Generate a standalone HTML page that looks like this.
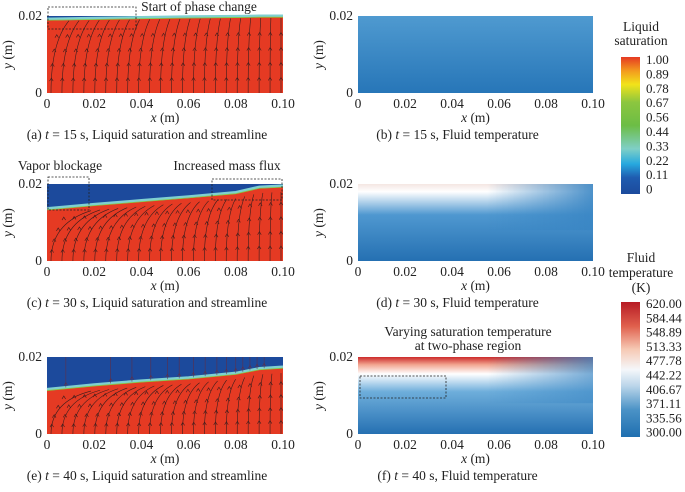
<!DOCTYPE html>
<html><head><meta charset="utf-8"><style>
body{margin:0;background:#fff}
svg, svg text{font-family:"Liberation Serif","Times New Roman",serif}
svg text{fill:#222}
</style></head><body>
<svg id="fig" width="685" height="487" viewBox="0 0 685 487" xmlns="http://www.w3.org/2000/svg" font-family="Liberation Serif, serif">
<defs>
<linearGradient id="satbar" x1="0" y1="1" x2="0" y2="0">
<stop offset="0" stop-color="#1c4a9c"/><stop offset="0.12" stop-color="#1f5cb0"/><stop offset="0.22" stop-color="#27a9df"/><stop offset="0.33" stop-color="#7fcfc6"/><stop offset="0.5" stop-color="#6cbd45"/><stop offset="0.67" stop-color="#8cc63f"/><stop offset="0.8" stop-color="#f2e31a"/><stop offset="0.9" stop-color="#f39a1e"/><stop offset="1" stop-color="#e53a23"/>
</linearGradient>
<linearGradient id="tempbar" x1="0" y1="1" x2="0" y2="0">
<stop offset="0" stop-color="#1f6fb0"/><stop offset="0.2" stop-color="#4a92c6"/><stop offset="0.38" stop-color="#bcd6ea"/><stop offset="0.5" stop-color="#f5f7fa"/><stop offset="0.65" stop-color="#f6c9b4"/><stop offset="0.82" stop-color="#e0604d"/><stop offset="1" stop-color="#b71c25"/>
</linearGradient>
<linearGradient id="tb" x1="0" y1="0" x2="0" y2="1"><stop offset="0" stop-color="#4f9ad0"/><stop offset="1" stop-color="#2776b8"/></linearGradient>
<linearGradient id="td" x1="0" y1="0" x2="0" y2="1"><stop offset="0" stop-color="#f4e6e2"/><stop offset="0.1" stop-color="#ffffff"/><stop offset="0.4" stop-color="#4f98d0"/><stop offset="1" stop-color="#2570b2"/></linearGradient>
<linearGradient id="tf" x1="0" y1="0" x2="0" y2="1"><stop offset="0" stop-color="#cc2a2a"/><stop offset="0.1" stop-color="#f2a590"/><stop offset="0.22" stop-color="#ffffff"/><stop offset="0.45" stop-color="#6eaedb"/><stop offset="1" stop-color="#2570b2"/></linearGradient>
<linearGradient id="fade" x1="0" y1="0" x2="1" y2="0"><stop offset="0" stop-color="#3a86c4" stop-opacity="0"/><stop offset="0.55" stop-color="#3a86c4" stop-opacity="0"/><stop offset="1" stop-color="#3a86c4" stop-opacity="0.9"/></linearGradient>
<linearGradient id="fadev" x1="0" y1="0" x2="0" y2="1"><stop offset="0" stop-color="#fff" stop-opacity="1"/><stop offset="0.7" stop-color="#fff" stop-opacity="1"/><stop offset="1" stop-color="#fff" stop-opacity="0"/></linearGradient>
<mask id="fm"><rect x="0" y="0" width="685" height="487" fill="url(#fadev)"/></mask>
</defs>
<g id="root"></g>
</svg>
<script>
const xTicks=[0,0.02,0.04,0.06,0.08,0.10];
const xTickLabels=["0","0.02","0.04","0.06","0.08","0.10"];
const yTicks=[0,0.02];
const yTickLabels=["0","0.02"];
const satLabels=["1.00","0.89","0.78","0.67","0.56","0.44","0.33","0.22","0.11","0"];
const tempLabels=["620.00","584.44","548.89","513.33","477.78","442.22","406.67","371.11","335.56","300.00"];
// interface height (m) vs x for panels
const ifaceX=[0,0.02,0.04,0.06,0.08,0.09,0.10];
const ifaceA=[0.0192,0.0194,0.0196,0.0198,0.0199,0.02,0.02];
const ifaceC=[0.0136,0.0147,0.0157,0.0167,0.0178,0.0192,0.0195];
const ifaceE=[0.0116,0.0128,0.0138,0.0146,0.0158,0.0170,0.0174];
const captions=["(a) t = 15 s, Liquid saturation and streamline","(b) t = 15 s, Fluid temperature","(c) t = 30 s, Liquid saturation and streamline","(d) t = 30 s, Fluid temperature","(e) t = 40 s, Liquid saturation and streamline","(f) t = 40 s, Fluid temperature"];

const FS=13.5;
const NS="http://www.w3.org/2000/svg";
const root=document.getElementById('root');
function mk(tag,attrs,parent){const e=document.createElementNS(NS,tag);for(const k in attrs)e.setAttribute(k,attrs[k]);(parent||root).appendChild(e);return e;}
function txt(s,x,y,size,anchor,parent){const t=mk('text',{x:x,y:y,'font-size':size,'text-anchor':anchor||'middle','font-family':'Liberation Serif, serif'},parent);t.textContent=s;return t;}

const panels=[
 {x0:47,x1:283,y0:16,y1:93,kind:'sat',iface:ifaceA,cap:0},
 {x0:358,x1:593,y0:16,y1:93,kind:'tb',cap:1},
 {x0:47,x1:283,y0:184,y1:261,kind:'sat',iface:ifaceC,cap:2},
 {x0:358,x1:593,y0:184,y1:261,kind:'td',cap:3},
 {x0:47,x1:283,y0:357,y1:434,kind:'sat',iface:ifaceE,cap:4},
 {x0:358,x1:593,y0:357,y1:434,kind:'tf',cap:5}
];

panels.forEach((p,i)=>{
 const g=mk('g',{});
 
 
 const sx=v=>p.x0+v/0.1*(p.x1-p.x0);
 const sy=v=>p.y1-v/0.02*(p.y1-p.y0);
 const W=p.x1-p.x0,H=p.y1-p.y0;
 const ifY=xv=>{let j=0;while(j<ifaceX.length-2&&ifaceX[j+1]<xv)j++;const t=(xv-ifaceX[j])/(ifaceX[j+1]-ifaceX[j]);return sy(p.iface[j]+t*(p.iface[j+1]-p.iface[j]));};
 if(p.kind==='sat'){
  const bg=mk('rect',{x:p.x0,y:p.y0,width:W,height:H,fill:'#1c4a9c'},g);
  
  
  const pts=ifaceX.map((x,k)=>sx(x)+','+sy(p.iface[k]));
  const band=mk('polyline',{points:pts.join(' '),fill:'none',stroke:'#7fd0d0','stroke-width':3},g);
  
  
  const liq=mk('polygon',{points:p.x0+','+p.y1+' '+pts.map(s=>{const [a,b]=s.split(',');return a+','+(+b+1.5);}).join(' ')+' '+p.x1+','+p.y1,fill:'#e53a23'},g);
  
  
  mk('polyline',{points:pts.map(s=>{const [a,b]=s.split(',');return a+','+(+b+1.2);}).join(' '),fill:'none',stroke:'#8cc63f','stroke-width':0.8},g);
  const sl=mk('g',{stroke:'#3a1d1d','stroke-width':0.6,fill:'none'},g);
  
  
  const n=22;
  for(let k=0;k<n;k++){
   const xb=p.x0+4+k*(W-6)/(n-1);
   const bend=(1-k/(n-1))*(i===0?18:40);
   const xe=Math.min(p.x1-2,xb+bend);
   const topY=ifY((xe-p.x0)/W*0.1)+2;
   const d='M'+xb+','+p.y1+' Q'+xb+','+(topY+(p.y1-topY)*0.3)+' '+xe+','+(topY+(i===0?0:4));
   mk('path',{d:d},sl);
   for(let a=1;a<=4;a++){const yy=p.y1-a*(p.y1-topY)/5;mk('path',{d:'M'+(xb+bend*Math.pow(a/5,2)*0.5-1.8)+','+(yy+2.5)+' l1.8,-3 l1.8,3'},sl);}
  }
  if(i===4){
   const vx=[0.008,0.027,0.036,0.044,0.051,0.056,0.062,0.067,0.072,0.076,0.080,0.083,0.086,0.089,0.092];
   vx.forEach(v=>{const xx=sx(v);const yb=ifY(v);mk('path',{d:'M'+xx+','+p.y0+' V'+yb+' M'+(xx-1.8)+','+(yb-2)+' l1.8,-3 l1.8,3',stroke:'#6a2a3a','stroke-width':0.5},sl);});
  }
 } else {
  const fill=p.kind==='tb'?'url(#tb)':p.kind==='td'?'url(#td)':'url(#tf)';
  const r=mk('rect',{x:p.x0,y:p.y0,width:W,height:H,fill:fill},g);
  
  
  if(p.kind!=='tb'){mk('rect',{x:p.x0,y:p.y0,width:W,height:H*0.6,fill:'url(#fade)',mask:'url(#fm)'},g);}
 }
 xTicks.forEach((v,k)=>{txt(xTickLabels[k],sx(v),p.y1+15,FS,'middle',g);});
 yTicks.forEach((v,k)=>{txt(yTickLabels[k],p.x0-5,sy(v)+4,FS,'end',g);});
 const xl=txt('',(p.x0+p.x1)/2,p.y1+29,FS,'middle',g);
 xl.innerHTML='<tspan font-style="italic">x</tspan> (m)';
 
 
 const yl=mk('text',{x:0,y:0,'font-size':FS,'text-anchor':'middle','font-family':'Liberation Serif, serif',transform:'translate('+(p.x0-35)+','+((p.y0+p.y1)/2)+') rotate(-90)'},g);
 yl.innerHTML='<tspan font-style="italic">y</tspan> (m)';
 
 
 const c=txt('',(p.x0+p.x1)/2-18,p.y1+46,FS,'middle',g);
 const parts=captions[p.cap].split(' t ');
 c.innerHTML=parts[0]+' <tspan font-style="italic">t</tspan> '+parts[1];
 
 
});

function box(x,y,w,h,name){const b=mk('rect',{x:x,y:y,width:w,height:h,fill:'none',stroke:'#222','stroke-width':0.8,'stroke-dasharray':'2,1.5'});}
box(48,7,88,22,'phase-change-box');
txt('Start of phase change',199,11,FS);
box(48,177,41,33,'vapor-blockage-box');
txt('Vapor blockage',60,170,FS);
box(212,179,70,21,'mass-flux-box');
txt('Increased mass flux',227,170,FS);
box(360,376,86,22,'two-phase-box');
txt('Varying saturation temperature',468,336,FS);
txt('at two-phase region',468,350,FS);

const cb1=mk('rect',{x:621,y:57,width:19,height:137,fill:'url(#satbar)'});


txt('Liquid',641,31,FS);txt('saturation',641,45,FS);
satLabels.forEach((s,k)=>txt(s,646,64+k*14.4,13,'start'));
const cb2=mk('rect',{x:621,y:302,width:19,height:135,fill:'url(#tempbar)'});


txt('Fluid',641,262,FS);txt('temperature',641,277,FS);txt('(K)',641,292,FS);
tempLabels.forEach((s,k)=>txt(s,646,308+k*14.3,13,'start'));
</script>
</body></html>
